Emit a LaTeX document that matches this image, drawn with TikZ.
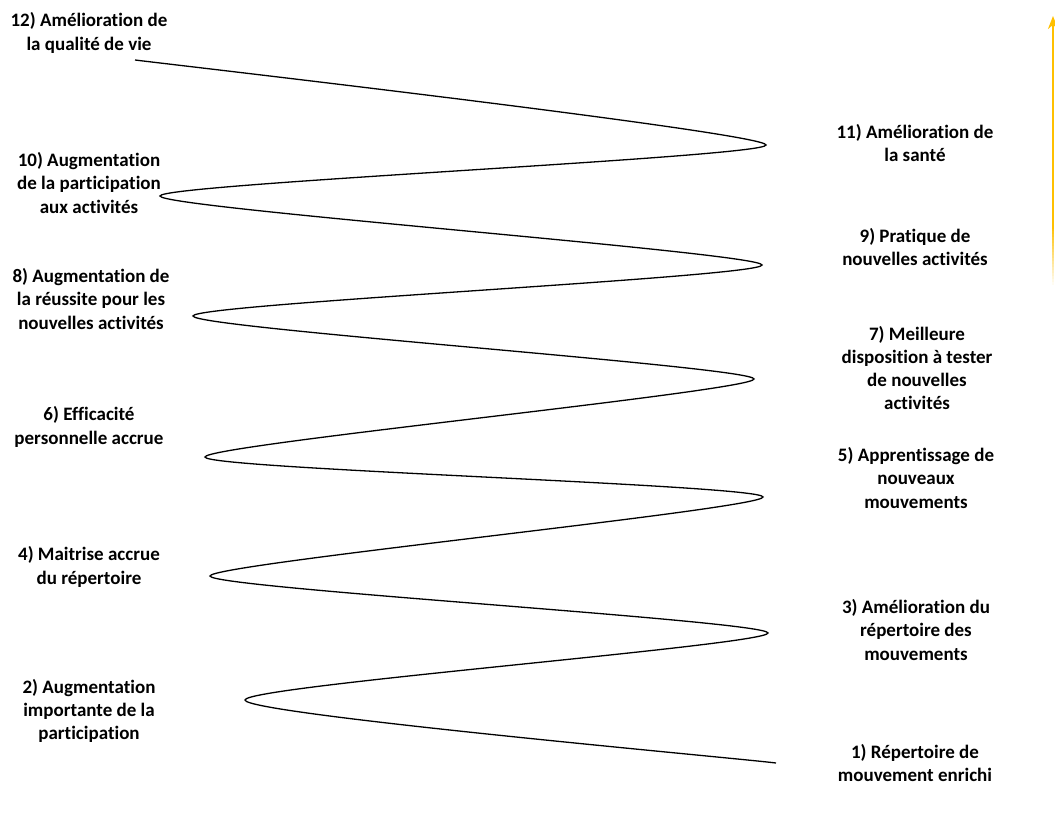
\documentclass[tikz,border=0pt]{standalone}
\usepackage{fontspec}
\setmainfont[RawFeature={-liga}]{Carlito}
\usetikzlibrary{arrows.meta}
\definecolor{arrowgold}{HTML}{FFC000}
\begin{document}
\begin{tikzpicture}[x=1pt,y=-1pt,
  lbl/.style={align=center,font=\bfseries\fontsize{19}{23.3}\selectfont,inner sep=0pt},
  wave/.style={line width=1.3pt,black}]
\useasboundingbox (0,0) rectangle (1055,821);
% turn points
\coordinate (t1) at (776,763);
\coordinate (t2) at (245,700);
\coordinate (t3) at (768,633);
\coordinate (t4) at (210,576);
\coordinate (t5) at (763,497);
\coordinate (t6) at (205,457);
\coordinate (t7) at (754,379);
\coordinate (t8) at (193,316);
\coordinate (t9) at (762,265);
\coordinate (t10) at (160,196);
\coordinate (t11) at (766,145);
\coordinate (t12) at (135,60);
\draw[wave] (t1) .. controls +(-40,-5) and +(0,14) .. (t2)
  .. controls +(0,-14) and +(0,12) .. (t3)
  .. controls +(0,-12) and +(0,12) .. (t4)
  .. controls +(0,-12) and +(0,12) .. (t5)
  .. controls +(0,-12) and +(0,12) .. (t6)
  .. controls +(0,-12) and +(0,12) .. (t7)
  .. controls +(0,-12) and +(0,12) .. (t8)
  .. controls +(0,-12) and +(0,12) .. (t9)
  .. controls +(0,-12) and +(0,12) .. (t10)
  .. controls +(0,-12) and +(0,12) .. (t11)
  .. controls +(0,-12) and +(40,5) .. (t12);
% labels
\node[lbl] (n12) at (89,33) {12) Amélioration de\\la qualité de vie};
\node[lbl] (n10) at (89,183) {10) Augmentation\\de la participation\\aux activités};
\node[lbl] (n8) at (91,299) {8) Augmentation de\\la réussite pour les\\nouvelles activités};
\node[lbl] (n6) at (89,427) {6) Efficacité\\personnelle accrue};
\node[lbl] (n4) at (89,567) {4) Maitrise accrue\\du répertoire};
\node[lbl] (n2) at (89,711) {2) Augmentation\\importante de la\\participation};
\node[lbl] (n11) at (915,143) {11) Amélioration de\\la santé};
\node[lbl] (n9) at (915,247) {9) Pratique de\\nouvelles activités};
\node[lbl] (n7) at (917,368) {7) Meilleure\\disposition à tester\\de nouvelles\\activités};
\node[lbl] (n5) at (916,478) {5) Apprentissage de\\nouveaux\\mouvements};
\node[lbl] (n3) at (916,630) {3) Amélioration du\\répertoire des\\mouvements};
\node[lbl] (n1) at (915,763) {1) Répertoire de\\mouvement enrichi};
% arrow with fading tail
\coordinate (atop) at (1053,16);
\foreach \i in {0,...,19}{
  \pgfmathsetmacro{\op}{\i/20}
  \draw[arrowgold,line width=2.4pt,opacity=\op] (1053,{288-\i*3}) -- (1053,{288-\i*3-3.2});
}
\draw[arrowgold,line width=2.4pt,-{Stealth[length=13pt,width=10pt]}] (1053,229) -- (atop);
\end{tikzpicture}
\end{document}
